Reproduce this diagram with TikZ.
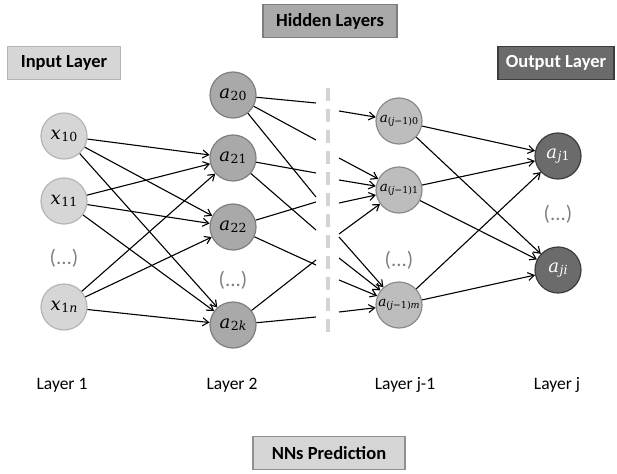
\documentclass[tikz,border=0pt]{standalone}
\usepackage{fontspec}
\setmainfont{Carlito}
\newfontfamily\mfont{DejaVu Serif}
\usetikzlibrary{arrows.meta}
\definecolor{aFill}{HTML}{D6D6D6}
\definecolor{aDraw}{HTML}{B4B4B4}
\definecolor{bFill}{HTML}{A9A9A9}
\definecolor{bDraw}{HTML}{7E7E7E}
\definecolor{cFill}{HTML}{BDBDBD}
\definecolor{cDraw}{HTML}{8A8A8A}
\definecolor{dFill}{HTML}{6B6B6B}
\definecolor{dDraw}{HTML}{3C3C3C}
\definecolor{dotGray}{HTML}{808080}
\definecolor{dashGray}{HTML}{D4D4D4}
\newcommand{\nlabBig}[2]{{\mfont\fontsize{18}{20}\selectfont\itshape #1\kern0.5pt}\raisebox{-0.4ex}{\mfont\fontsize{12.5}{13}\selectfont #2}}
\newcommand{\nlabSmall}[2]{{\mfont\fontsize{13.5}{15}\selectfont\itshape #1}\raisebox{-0.4ex}{\mfont\fontsize{9.5}{10}\selectfont #2}}
\begin{document}
\begin{tikzpicture}[x=1pt,y=-1pt,
  lab/.style={draw, line width=1.6pt, font=\bfseries\fontsize{18.5}{20}\selectfont, inner sep=0pt, minimum height=33pt},
  nbase/.style={circle, line width=1.2pt, minimum size=46pt, inner sep=0pt},
  n1/.style={nbase, draw=aDraw, fill=aFill},
  n2/.style={nbase, draw=bDraw, fill=bFill},
  n3/.style={nbase, draw=cDraw, fill=cFill},
  n4/.style={nbase, draw=dDraw, fill=dFill, text=white},
  arr/.style={-{Straight Barb[length=6pt,width=8pt]}, line width=1.1pt},
  ln/.style={line width=1.1pt},
  dotsty/.style={text=dotGray, font=\fontsize{21}{23}\selectfont},
  layer/.style={font=\fontsize{17.5}{19}\selectfont}
]
\useasboundingbox (0,0) rectangle (617,473);

% title boxes
\node[lab, fill=bFill, draw=bDraw, minimum width=134pt] (hid) at (330,21) {Hidden Layers};
\node[lab, fill=aFill, draw=aDraw, minimum width=113pt] (inp) at (64,63) {Input Layer};
\node[lab, fill=dFill, draw=dDraw, text=white, minimum width=116pt] (out) at (556,63) {Output Layer};
\node[lab, fill=aFill, draw=aDraw!80!black, minimum width=152pt] (pred) at (329,453) {NNs Prediction};

% layer 1
\node[n1] (x10) at (64,136) {\nlabBig{x}{10}};
\node[n1] (x11) at (64,201) {\nlabBig{x}{11}};
\node[dotsty] (d1) at (64,258) {(...)};
\node[n1] (x1n) at (64,307) {\nlabBig{x}{1\textit{n}}};

% layer 2
\node[n2] (a20) at (233,95) {\nlabBig{a}{20}};
\node[n2] (a21) at (233,158) {\nlabBig{a}{21}};
\node[n2] (a22) at (233,227) {\nlabBig{a}{22}};
\node[dotsty] (d2) at (233,280) {(...)};
\node[n2] (a2k) at (233,325) {\nlabBig{a}{2\textit{k}}};

% layer j-1
\node[n3] (b0) at (399,121) {\nlabSmall{a}{(\textit{j}−1)0}};
\node[n3] (b1) at (399,190) {\nlabSmall{a}{(\textit{j}−1)1}};
\node[dotsty] (d3) at (399,260) {(...)};
\node[n3] (bm) at (399,305) {\nlabSmall{a}{(\textit{j}−1)\textit{m}}};

% layer j
\node[n4] (c1) at (558,156) {\nlabBig{a}{\textit{j}1}};
\node[dotsty] (d4) at (558,214) {(...)};
\node[n4] (ci) at (558,270) {\nlabBig{a}{\textit{ji}}};

% layer labels
\node[layer] (l1) at (62,385) {Layer 1};
\node[layer] (l2) at (232,385) {Layer 2};
\node[layer] (l3) at (405,385) {Layer j-1};
\node[layer] (l4) at (557,385) {Layer j};

% dashed separator
\coordinate (sepT) at (328,88);
\coordinate (sepB) at (328,338);
\draw[dashGray, line width=3.5pt, dash pattern=on 13pt off 8pt] (sepT) -- (sepB);

% layer 1 -> layer 2
\foreach \s in {x10,x11,x1n}
  \foreach \t in {a21,a22,a2k}
    \draw[arr] (\s) -- (\t);

% layer 2 -> separator (loose ends)
\coordinate (e1) at (316,103);
\coordinate (e2) at (316,140);
\coordinate (e3) at (316,197);
\coordinate (e4) at (316,173);
\coordinate (e5) at (316,230);
\coordinate (e6) at (316,202);
\coordinate (e7) at (316,265);
\coordinate (e8) at (316,260);
\coordinate (e9) at (316,317);
\draw[ln] (a20) -- (e1);
\draw[ln] (a20) -- (e2);
\draw[ln] (a20) -- (e3);
\draw[ln] (a21) -- (e4);
\draw[ln] (a21) -- (e5);
\draw[ln] (a22) -- (e6);
\draw[ln] (a22) -- (e7);
\draw[ln] (a2k) -- (e8);
\draw[ln] (a2k) -- (e9);

% separator -> layer j-1
\coordinate (s1) at (339,111);
\coordinate (s2) at (339,158);
\coordinate (s3) at (339,180);
\coordinate (s4) at (339,203);
\coordinate (s5) at (339,234);
\coordinate (s6) at (339,237);
\coordinate (s7) at (339,258);
\coordinate (s8) at (339,280);
\coordinate (s9) at (339,312);
\draw[arr] (s1) -- (b0);
\draw[arr] (s2) -- (b1);
\draw[arr] (s3) -- (b1);
\draw[arr] (s4) -- (b1);
\draw[arr] (s5) -- (b1);
\draw[arr] (s6) -- (bm);
\draw[arr] (s7) -- (bm);
\draw[arr] (s8) -- (bm);
\draw[arr] (s9) -- (bm);

% layer j-1 -> layer j
\foreach \s in {b0,b1,bm}
  \foreach \t in {c1,ci}
    \draw[arr] (\s) -- (\t);
\end{tikzpicture}
\end{document}
